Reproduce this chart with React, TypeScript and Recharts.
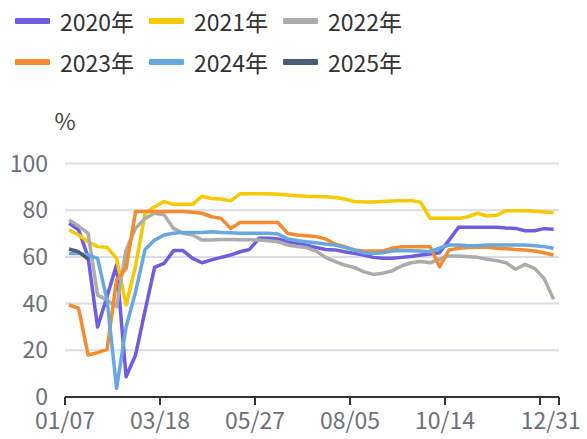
import { LineChart, Line, XAxis, YAxis, CartesianGrid, Legend } from 'recharts';

// weekly observation dates (last one falls in the next year)
const weekDates = [
  '01/10', '01/17', '01/24', '01/31', '02/07', '02/14', '02/21', '02/28',
  '03/07', '03/14', '03/21', '03/28', '04/04', '04/11', '04/18', '04/25',
  '05/02', '05/09', '05/16', '05/23', '05/30', '06/06', '06/13', '06/20',
  '06/27', '07/04', '07/11', '07/18', '07/25', '08/01', '08/08', '08/15',
  '08/22', '08/29', '09/05', '09/12', '09/19', '09/26', '10/03', '10/10',
  '10/17', '10/24', '10/31', '11/07', '11/14', '11/21', '11/28', '12/05',
  '12/12', '12/19', '12/26', '01/02',
];

const y2020 = [
  74.4, 71.6, 60, 30, 43, 56.6, 8.7, 18, 37, 55.5, 57.2, 62.7, 62.7, 59.4, 57.5, 58.7,
  59.8, 60.8, 62.2, 63.2, 68, 68, 67.7, 66.5, 65.8, 65, 64, 63.2, 63, 62.2, 61.5, 60.8,
  59.8, 59.4, 59.4, 59.8, 60.2, 60.8, 61.2, 61.8, 67.2, 72.7, 72.7, 72.7, 72.7, 72.7, 72.4, 72.2,
  71.2, 71.2, 72.1, 71.8,
];
const y2021 = [
  71.5, 69.4, 66.5, 64.4, 64.1, 59.4, 39.4, 56, 78.5, 81.5, 83.7, 82.5, 82.5, 82.5, 86, 85,
  84.8, 84, 87, 87, 87, 87, 86.8, 86.5, 86.2, 86, 85.9, 85.8, 85.4, 84.8, 83.7, 83.5,
  83.5, 83.7, 83.9, 84.1, 84.1, 83.4, 76.5, 76.5, 76.5, 76.5, 77.2, 78.7, 77.5, 77.8, 79.8, 79.8,
  79.8, 79.5, 79.2, 78.9,
];
const y2022 = [
  75.8, 73.2, 70.1, 43.7, 41.5, 38.7, 63, 72.2, 76.5, 78.7, 78, 72.2, 70.1, 69.4, 67.2, 67.2,
  67.5, 67.5, 67.3, 67.3, 67.2, 66.9, 66.5, 65.1, 64.4, 64, 62.5, 59.8, 58, 56.5, 55.5, 53.7,
  52.5, 53, 54, 56.1, 57.5, 58, 57.5, 59, 60.4, 60.4, 60.1, 59.8, 59, 58.4, 57.5, 54.7,
  56.8, 55.1, 50.8, 41.8,
];
const y2023 = [
  39.4, 38, 18, 19, 20.4, 50.1, 55.1, 79.4, 79.4, 79.4, 79.4, 79.4, 79.4, 79.1, 78.7, 77.2,
  76.5, 72.2, 74.7, 74.7, 74.7, 74.7, 74.7, 70.1, 69.4, 69.1, 68.7, 67.7, 65.5, 64.4, 63, 62.5,
  62.5, 62.5, 63.7, 64.4, 64.4, 64.4, 64.4, 55.8, 63, 63.7, 64, 64.1, 64.1, 63.7, 63.5, 63.2,
  63, 62.5, 61.8, 60.8,
];
const y2024 = [
  61.5, 61.5, 60.8, 59.4, 41.5, 3.7, 30, 45, 63.2, 67.2, 69.4, 70.1, 70.5, 70.5, 70.5, 70.8,
  70.5, 70.3, 70.1, 70.1, 70.1, 70.1, 69.8, 67.7, 67, 66.5, 66.1, 65.5, 65.1, 64.1, 63, 61.8,
  61.5, 61.8, 62.5, 62.7, 62.6, 62.5, 62.2, 63.7, 65.1, 65.1, 64.8, 64.8, 65.1, 65.1, 65.1, 65.1,
  65.1, 64.8, 64.4, 63.7,
];
const y2025 = [63.4, 62.2, 59];

const series = [
  { key: 'y2020', name: '2020年', color: '#6f5ce0', values: y2020 },
  { key: 'y2021', name: '2021年', color: '#f6c900', values: y2021 },
  { key: 'y2022', name: '2022年', color: '#acacac', values: y2022 },
  { key: 'y2023', name: '2023年', color: '#f28c2e', values: y2023 },
  { key: 'y2024', name: '2024年', color: '#68a8e0', values: y2024 },
  { key: 'y2025', name: '2025年', color: '#4b5b78', values: y2025 },
];

const tickLabels = ['01/07', '03/18', '05/27', '08/05', '10/14', '12/31'];
const tickMarks = ['01/07', '03/18', '05/27', '08/05', '10/14', '12/23', '01/06'];
const yTicks = [0, 20, 40, 60, 80, 100];

const monthStart = [0, 31, 59, 90, 120, 151, 181, 212, 243, 273, 304, 334];
const dayOfYear = (md: string) => monthStart[+md.slice(0, 2) - 1] + +md.slice(3);
// days since 01/07, wrapping early-january dates into the next year
const dayOffset = (md: string) => {
  const d = dayOfYear(md) - dayOfYear('01/07');
  return d < 0 ? d + 365 : d;
};

const data = weekDates.map((date, i) => {
  const row: Record<string, number | string | null> = { date, day: dayOffset(date) };
  series.forEach((s) => {
    row[s.key] = s.values[i] ?? null;
  });
  return row;
});

const axisEnd = dayOffset('01/06');
const xTicks = Array.from(new Set([...tickMarks, ...tickLabels].map(dayOffset))).sort((a, b) => a - b);
const labelDays = new Map(tickLabels.map((t) => [dayOffset(t), t]));
const markDays = new Set(tickMarks.map(dayOffset));

const FONT = '"Noto Sans CJK SC", "Noto Sans", sans-serif';

function XTick({ x, y, payload }: any) {
  const v = payload.value;
  return (
    <g>
      {markDays.has(v) && <line x1={x} x2={x} y1={y} y2={y + 8} stroke="#333" strokeWidth={2} />}
      {labelDays.has(v) && (
        <text x={x} y={y + 13} dy="0.82em" textAnchor="middle" fill="#6e7079" fontSize={23} fontFamily={FONT}>
          {labelDays.get(v)}
        </text>
      )}
    </g>
  );
}

function PercentLabel({ viewBox }: any) {
  return (
    <text x={viewBox.x + viewBox.width} y={viewBox.y - 44} textAnchor="middle" dominantBaseline="central" fill="#444" fontSize={23} fontFamily={FONT}>
      %
    </text>
  );
}

function LegendBox({ payload }: any) {
  return (
    <div style={{ position: 'relative', width: 587, height: 84, fontFamily: FONT }}>
      {(payload || []).map((p: any, i: number) => (
        <div
          key={p.value}
          style={{
            position: 'absolute',
            left: 15 + (i % 3) * 134,
            top: (i < 3 ? 20.7 : 62.3) - 15,
            height: 30,
            display: 'flex',
            alignItems: 'center',
            whiteSpace: 'nowrap',
          }}
        >
          <span style={{ display: 'inline-block', width: 35, height: 6, background: p.color, marginRight: 10, borderRadius: 1 }} />
          <span style={{ fontSize: 23, color: '#333' }}>{p.value}</span>
        </div>
      ))}
    </div>
  );
}

export default function App() {
  return (
    <div style={{ position: 'absolute', left: 0, top: 0, width: 587, height: 439, background: '#fff' }}>
      <LineChart width={587} height={439} data={data} margin={{ top: 163.5, right: 28, bottom: 0, left: 5 }}>
        <CartesianGrid horizontal vertical={false} stroke="#dadde7" strokeWidth={2} />
        <XAxis
          dataKey="day"
          type="number"
          height={42}
          domain={[0, axisEnd]}
          ticks={xTicks}
          interval={0}
          tickLine={false}
          tickSize={0}
          tickMargin={0}
          axisLine={{ stroke: '#333', strokeWidth: 2 }}
          tick={<XTick />}
          allowDataOverflow
        />
        <YAxis
          width={60}
          domain={[0, 100]}
          ticks={yTicks}
          interval={0}
          axisLine={false}
          tickLine={false}
          tickSize={0}
          tickMargin={17}
          tick={{ fill: '#6e7079', fontSize: 23, fontFamily: FONT }}
          label={<PercentLabel />}
        />
        <Legend
          layout="horizontal"
          verticalAlign="middle"
          align="center"
          wrapperStyle={{ top: 0, left: 0, width: 587 }}
          content={<LegendBox />}
        />
        {series.map((s) => (
          <Line
            key={s.key}
            type="linear"
            dataKey={s.key}
            name={s.name}
            stroke={s.color}
            strokeWidth={3.5}
            strokeLinejoin="round"
            dot={false}
            activeDot={false}
            isAnimationActive={false}
          />
        ))}
      </LineChart>
    </div>
  );
}
